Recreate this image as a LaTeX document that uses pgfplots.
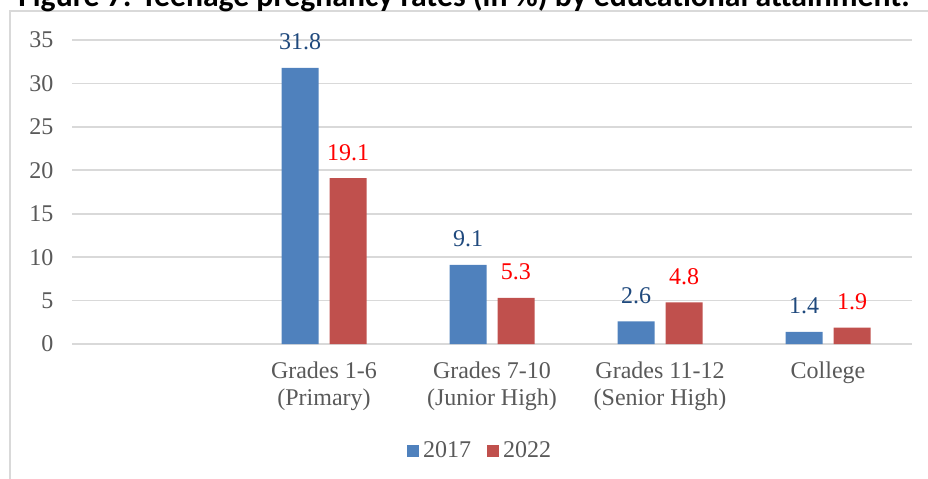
\documentclass[border=0pt]{standalone}
\usepackage{pgfplots}
\pgfplotsset{compat=1.18}
\usepackage{fontspec}
\setmainfont{Liberation Serif}
\newfontfamily\titlefont{Carlito}
\definecolor{barblue}{HTML}{4F81BD}
\definecolor{barred}{HTML}{C0504D}
\definecolor{lblblue}{HTML}{1F497D}
\definecolor{lblred}{HTML}{FF0000}
\definecolor{gridgray}{HTML}{D9D9D9}
\definecolor{textgray}{HTML}{595959}

\begin{document}
\begin{tikzpicture}
% 1 px of the reference = 0.5pt, y downwards
\useasboundingbox (0pt,0pt) rectangle (464pt,-239pt);
\clip (0pt,0pt) rectangle (464pt,-239pt);
\draw[gridgray, line width=0.75pt] (5pt,-5.5pt) rectangle (520pt,-300pt);
\node[anchor=base west, inner sep=0pt, font=\titlefont\bfseries\fontsize{15.85}{18}\selectfont]
  at (9pt,-3pt) {Figure 7: Teenage pregnancy rates (in \%) by educational attainment.};

\begin{axis}[
    at={(36pt,-172pt)}, anchor=south west,
    scale only axis, width=420pt, height=152pt,
    xmin=-0.5, xmax=4.5, ymin=0, ymax=35,
    ytick={0,5,...,35},
    xtick={1,2,3,4},
    xticklabels={{Grades 1-6\\(Primary)},{Grades 7-10\\(Junior High)},{Grades 11-12\\(Senior High)},{College}},
    ymajorgrids, grid style={gridgray, line width=0.9pt},
    axis line style={draw=none}, major tick length=0pt,
    /pgf/number format/assume math mode=true,
    tick label style={font=\fontsize{12}{13.5}\selectfont, text=textgray},
    xticklabel style={align=center, yshift=-5.5pt},
    yticklabel style={xshift=-5.8pt},
    ybar, bar width=18.5pt,
    nodes near coords,
    every node near coord/.append style={font=\fontsize{12}{13.5}\selectfont, anchor=base, yshift=9pt},
    legend style={at={(rel axis cs:0.487,-0.352)}, anchor=center, draw=none, fill=none,
        font=\fontsize{12}{13.5}\selectfont, text=textgray,
        /tikz/every even column/.append style={column sep=6pt}},
    legend columns=2,
    legend image code/.code={\fill[#1,draw=none] (0pt,-3pt) rectangle (6pt,3pt);},
]
\addplot[fill=barblue, draw=none, bar shift=-12pt, nodes near coords style={text=lblblue}]
  coordinates {(1,31.8) (2,9.1) (3,2.6) (4,1.4)};
\addplot[fill=barred, draw=none, bar shift=12pt, nodes near coords style={text=lblred}]
  coordinates {(1,19.1) (2,5.3) (3,4.8) (4,1.9)};
\legend{2017, 2022}
\end{axis}
\end{tikzpicture}
\end{document}
